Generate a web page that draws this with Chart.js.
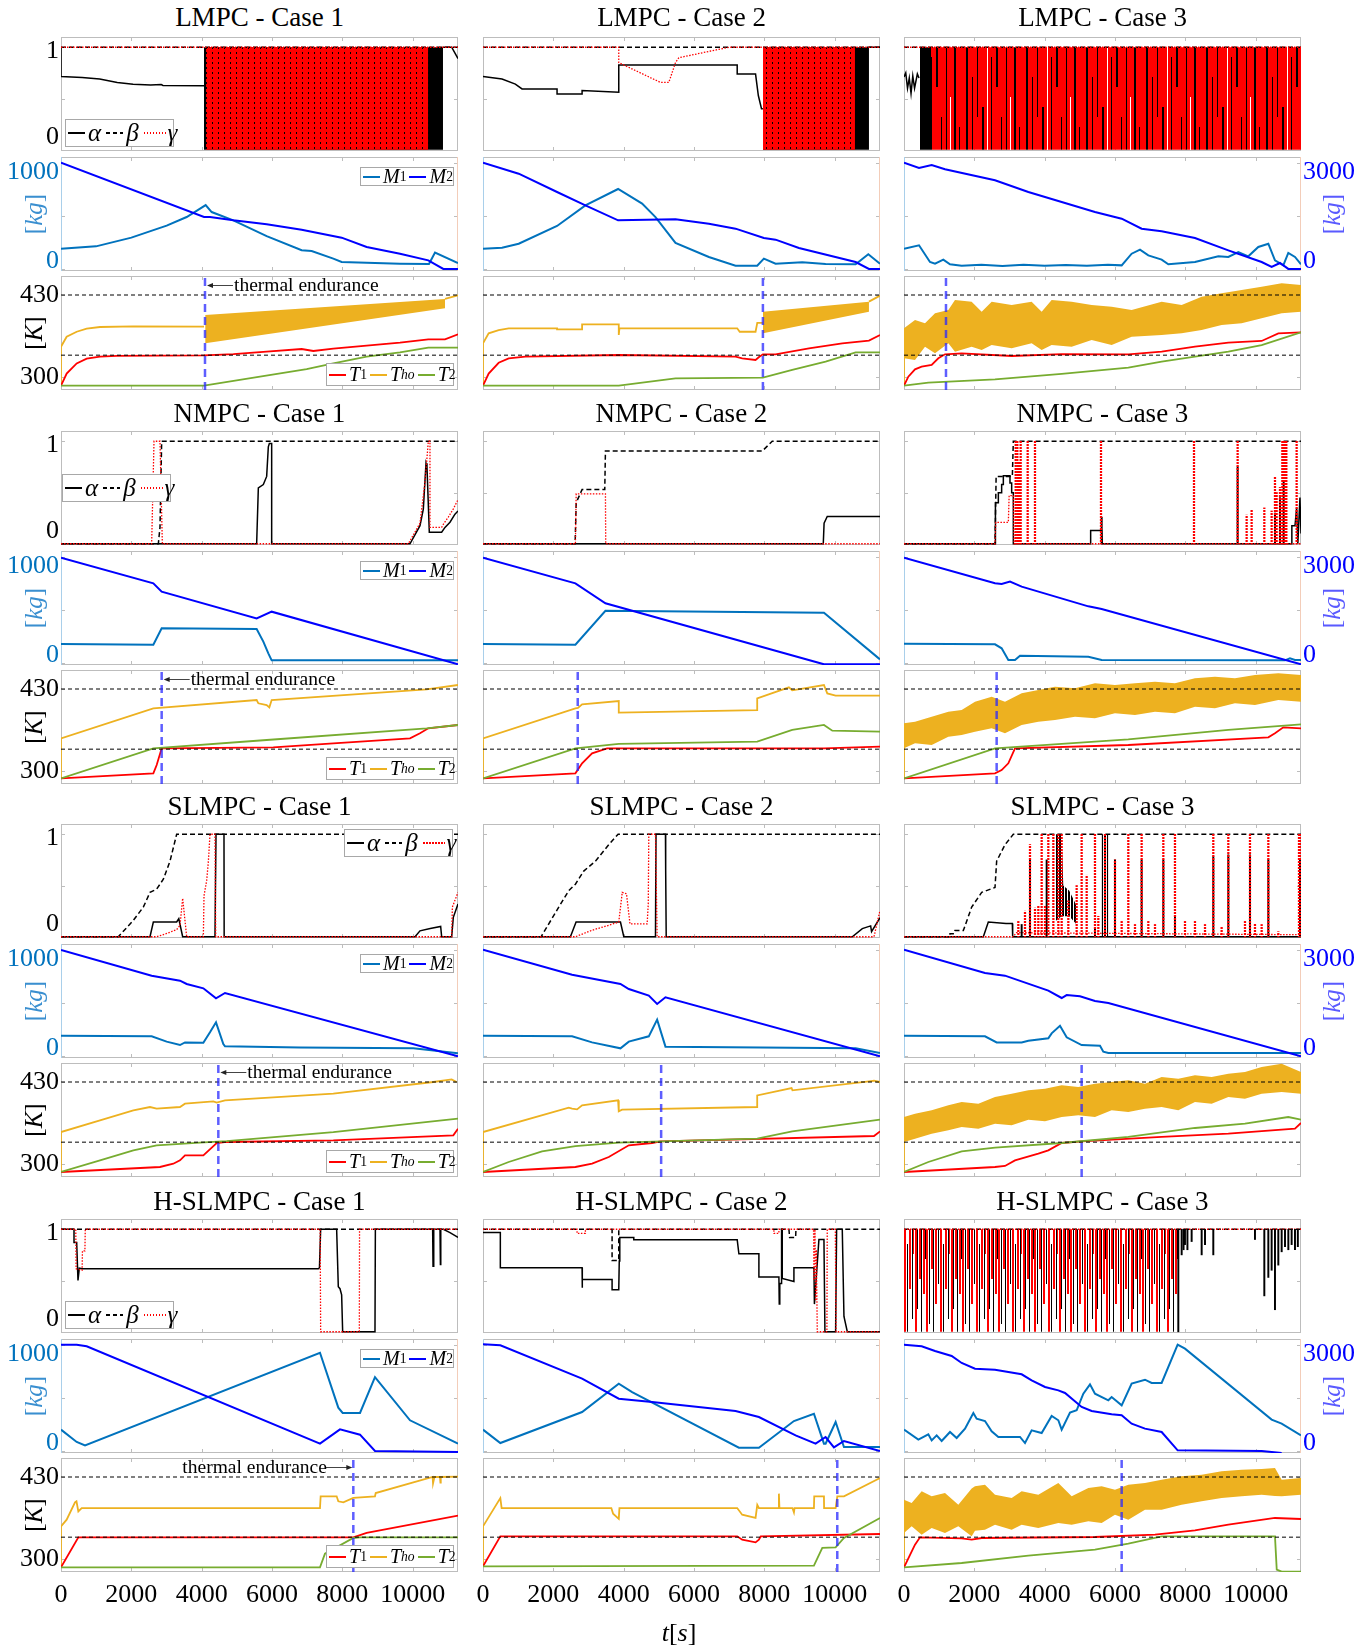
<!DOCTYPE html>
<html>
<head>
<meta charset="utf-8">
<title>MPC cases</title>
<script src="https://cdn.jsdelivr.net/npm/chart.js@4.4.1/dist/chart.umd.min.js"></script>
<style>
  html, body { margin: 0; padding: 0; background: #fff; }
  #fig { position: relative; width: 1370px; height: 1651px; overflow: hidden; font-family: 'Liberation Serif', 'Times New Roman', serif; color: #000; }
  #fig canvas { position: absolute; }
  .title { position: absolute; width: 397px; text-align: center; font-size: 27px; line-height: 27px; white-space: nowrap; }
  .ylab { position: absolute; font-size: 25px; line-height: 25px; white-space: nowrap; transform: translate(-50%, -50%) rotate(-90deg); }
  .lg { position: absolute; box-sizing: border-box; background: #fff; border: 1px solid #a8a8a8; display: flex; align-items: center; white-space: nowrap; }
  .lg i { font-style: italic; }
  .sw { display: inline-block; height: 2px; flex: none; }
  .note { position: absolute; font-size: 19.5px; line-height: 20px; white-space: nowrap; }
  sub { font-size: 0.68em; vertical-align: -0.28em; line-height: 0; }
</style>
</head>
<body>
<div id="fig"></div>
<script>
// time axis
const T_MAX = 11290;
const X_TICKS = [0, 2000, 4000, 6000, 8000, 10000];
const T_LIMITS = [430, 335];

// ---------- LMPC - Case 1 ----------
const lmpc1Alpha = [[0,1],[0,0.715],[600,0.706],[1100,0.69],[1600,0.657],[2050,0.638],[2550,0.632],[2850,0.636],[2900,0.627],[4067,0.625],[4068,null],[10863,null],[10863,1],[11110,1],[11290,0.89]];
const lmpc1Beta = [[0,1],[11290,1]];
const lmpc1Gamma = [[0,1],[11290,1]];
const lmpc1AlphaBand = [[4067,0,1],[10863,0,1]];
const lmpc1GammaBand = [[4123,0,1],[10445,0,1]];
const lmpc1M1 = [[0,190],[995,212],[2000,294],[3005,407],[3574,488],[4114,601],[4285,535],[4901,457],[5849,309],[6844,175],[7128,168],[7744,96],[7981,65],[8692,58],[9640,49],[10465,46],[10636,153],[11290,55]];
const lmpc1M2 = [[0,3000],[4067,1465],[4237,1465],[4901,1371],[5849,1258],[6844,1107],[7981,881],[8692,618],[9640,430],[10445,241],[10873,0],[11290,0]];
const lmpc1T1 = [[0,286.8],[161,306],[446,322],[730,329.5],[1109,332.6],[1583,334],[4067,334.7],[4901,336.8],[5849,340.5],[6844,344.7],[7176,341.6],[7744,345.3],[8692,350],[9640,354.7],[10445,360],[10920,360],[11290,367.9]];
const lmpc1Tho = [[0,286.8],[0,348.4],[161,364],[446,372],[730,376.8],[1109,379.5],[2057,380.5],[4067,380],[4068,null],[10920,null],[10920,423.7],[11290,429.5]];
const lmpc1ThoBand = [[4100,353.7,398.4],[10920,409,423.7]];
const lmpc1T2 = [[0,286.8],[4067,286.8],[6986,313],[7744,322],[8692,332.6],[9640,339.5],[10445,346.8],[11290,346.8]];
const lmpc1End = 4095;

// ---------- LMPC - Case 2 ----------
const lmpc2Alpha = [[0,0.715],[541,0.69],[920,0.641],[1110,0.593],[2106,0.593],[2106,0.545],[2818,0.545],[2818,0.577],[3861,0.561],[3861,0.827],[7229,0.827],[7229,0.738],[7751,0.738],[7830,0.529],[7920,0.4],[7960,0.4],[7961,null],[10976,null],[10976,1],[11290,1]];
const lmpc2Beta = [[0,1],[11290,1]];
const lmpc2Gamma = [[0,1],[3861,1],[3861,0.85],[5047,0.657],[5284,0.657],[5474,0.85],[5570,0.898],[6992,1],[11290,1]];
const lmpc2AlphaBand = [[7960,0,1],[10976,0,1]];
const lmpc2GammaBand = [[7960,0,1],[10578,0,1]];
const lmpc2M1 = [[0,190],[541,200],[1015,237],[2106,404],[2912,598],[3842,752],[4525,614],[4905,488],[5474,244],[6423,112],[7182,30],[7798,30],[7988,96],[8320,49],[9079,62],[9743,46],[10597,43],[10957,137],[11290,49]];
const lmpc2M2 = [[0,3000],[1015,2689],[2106,2171],[2912,1794],[3842,1371],[5474,1399],[6423,1277],[7182,1136],[7988,872],[8320,825],[8984,590],[10597,194],[10976,0],[11290,0]];
const lmpc2T1 = [[0,286.8],[161,306],[446,323],[730,330],[1205,332.6],[3861,335.3],[7182,332.6],[7371,330],[7751,327.4],[7850,332],[7960,336.3],[8320,336.3],[9269,345.8],[10217,353.7],[10976,357.9],[11290,366.8]];
const lmpc2Tho = [[0,286.8],[0,353.7],[161,369.5],[446,374.7],[730,377.4],[2106,377.4],[2106,375.8],[2818,375.8],[2818,383.7],[3861,383.7],[3861,367],[3880,377.4],[7229,377.4],[7300,372],[7751,372],[7800,386],[7960,386],[7961,null],[10976,null],[10976,419.5],[11290,429]];
const lmpc2ThoBand = [[7960,369.5,403.7],[10976,403.7,419.5]];
const lmpc2T2 = [[0,286.8],[3861,286.8],[5474,298.4],[7960,299.5],[8794,311.6],[9743,324.7],[10597,339.5],[11290,339.5]];
const lmpc2End = 7960;

// ---------- LMPC - Case 3 ----------
const lmpc3Alpha = [[0,0.71],[50,0.75],[100,0.6],[150,0.7],[200,0.55],[250,0.72],[300,0.6],[380,0.74],[427,0.7]];
const lmpc3Beta = [[0,1],[11290,1]];
const lmpc3Gamma = [[0,1],[11290,1]];
const lmpc3AlphaBand = [[455,0,1],[768,0,1]];
const lmpc3GammaBand = [[768,0,1],[11290,0,1]];
const lmpc3M1 = [[0,190],[427,222],[739,65],[882,49],[1118,87],[1308,43],[1640,30],[2200,38],[2800,28],[3400,40],[4000,30],[4600,36],[5200,30],[5800,38],[6190,33],[6474,143],[6711,181],[6948,127],[7327,87],[7517,43],[8275,65],[8939,118],[9223,112],[9507,159],[9792,118],[10076,206],[10361,237],[10550,80],[10787,33],[10929,150],[11119,112],[11290,43]];
const lmpc3M2 = [[0,3000],[427,2849],[787,2934],[1166,2812],[2588,2501],[3536,2171],[4484,1889],[5431,1606],[6190,1418],[6758,1136],[7327,1060],[8275,872],[9223,524],[10171,194],[10455,56],[10692,166],[10929,0],[11290,0]];
const lmpc3T1 = [[0,286.8],[123,301],[313,312.6],[502,316.8],[787,319.5],[976,330],[1166,336.3],[1640,337.9],[3062,333.7],[4484,336.8],[6379,336.3],[7327,340.5],[8275,348.4],[9223,354.7],[10171,357.4],[10645,369.5],[11290,371]];
const lmpc3Tho = [[0,286.8],[0,340]];
const lmpc3ThoBand = [[0,330,377.4],[313,327.4,390.5],[597,348.4,385.3],[882,337.9,401],[1261,353.7,406.3],[1450,340.5,422],[1924,348.4,419.5],[2209,343.2,403.7],[2493,351,419.5],[3062,345.8,414.2],[3630,353.7,419.5],[3915,343.2,403.7],[4199,351,422],[4768,348.4,419.5],[5337,359,414.2],[5905,351,411.6],[6474,364.2,406.3],[7327,366.8,419.5],[7896,369.5,414.2],[8465,374.7,427.4],[9033,382.6,432.6],[9602,385.3,437.9],[10171,393.2,443.2],[10740,401,448.4],[11290,403.7,445.8]];
const lmpc3T2 = [[0,286.8],[692,291.6],[2588,296.8],[4484,305.3],[6379,315.3],[7327,324.7],[9223,340.5],[10171,351],[11290,371]];
const lmpc3End = 1194;

// ---------- NMPC - Case 1 ----------
const nmpc1Alpha = [[0,0],[5564,0],[5612,0.545],[5754,0.577],[5849,0.657],[5896,0.946],[5925,0.978],[5991,0.978],[5991,0],[9925,0],[10209,0.176],[10304,0.337],[10380,0.786],[10408,0.75],[10474,0.112],[10825,0.112],[10920,0.16],[11062,0.21],[11204,0.289],[11290,0.32]];
const nmpc1Beta = [[0,0],[2768,0],[2815,0.16],[2863,1],[11290,1]];
const nmpc1Gamma = [[0,0],[2578,0],[2645,1],[2815,1],[2882,0],[9877,0],[10209,0.2],[10351,0.6],[10446,1],[10493,1],[10493,0.16],[10825,0.16],[10873,0.19],[11015,0.26],[11157,0.34],[11290,0.43]];
const nmpc1M1 = [[0,178],[2626,171],[2863,325],[5564,319],[5754,200],[5896,90],[5991,24],[11290,24]];
const nmpc1M2 = [[0,2972],[2626,2247],[2863,2011],[5564,1258],[5991,1446],[11290,-40]];
const nmpc1T1 = [[0,288.9],[2626,296.8],[2721,310],[2863,336.3],[6038,337.9],[7744,344.2],[9925,352.1],[10209,360],[10446,367.9],[11290,373.2]];
const nmpc1Tho = [[0,288.9],[0,352.1],[2626,399.5],[5564,412.6],[5612,407.4],[5849,404.7],[5925,401],[5991,412.6],[10398,429.5],[11290,436.3]];
const nmpc1T2 = [[0,288.9],[2626,336.3],[5849,349.5],[10398,367.9],[11290,373.2]];
const nmpc1End = 2863;

// ---------- NMPC - Case 2 ----------
const nmpc2Alpha = [[0,0],[9677,0],[9700,0.2],[9790,0.266],[11290,0.266]];
const nmpc2Beta = [[0,0],[2620,0],[2650,0.4],[2818,0.53],[3463,0.53],[3482,0.904],[7941,0.904],[8225,1],[11290,1]];
const nmpc2Gamma = [[0,0],[2628,0],[2650,0.487],[3482,0.487],[3490,0],[11290,0]];
const nmpc2M1 = [[0,178],[2628,171],[3482,491],[9696,473],[11290,33]];
const nmpc2M2 = [[0,2972],[2628,2247],[3482,1682],[9696,-40],[11290,-40]];
const nmpc2T1 = [[0,288.9],[2628,296.8],[2818,312.6],[3102,328.4],[3529,336.3],[9696,336.3],[11290,338.9]];
const nmpc2Tho = [[0,288.9],[0,352.1],[2628,399.5],[2700,400],[2818,405.8],[3861,411],[3861,392.6],[7798,396.8],[7798,415.3],[8699,432.6],[8794,428],[9696,436.3],[9791,423],[10028,419.5],[11290,419.5]];
const nmpc2T2 = [[0,288.9],[2628,336.3],[3861,343.2],[7798,346.8],[8794,365.3],[9696,373.2],[9934,364.2],[11290,362.6]];
const nmpc2End = 2694;

// ---------- NMPC - Case 3 ----------
const nmpc3Alpha = [[0,0],[2588,0],[2600,0.4],[2683,0.4],[2683,0.497],[2777,0.497],[2777,0.577],[2825,0.577],[2825,0.664],[3014,0.664],[3014,0.593],[3062,0.593],[3062,0.497],[3109,0.497],[3109,0],[5308,0],[5308,0.13],[5621,0.13],[5640,0],[11030,0],[11030,0.176],[11119,0.176],[11166,0.35],[11200,0],[11260,0.45],[11290,0.1]];
const nmpc3Beta = [[0,0],[2588,0],[2620,0.657],[3081,0.657],[3109,1],[11290,1]];
const nmpc3Gamma = [[0,0],[2588,0],[2610,0.208],[2967,0.208],[2990,0.47],[3109,0.47],[3130,0],[11290,0]];
const nmpc3GammaSpikes = [[3176,0,1],[3223,0,1],[3270,0,0.8],[3318,0,1],[3517,0,1],[3725,0,1],[5602,0,1],[8247,0,1],[9488,0,1],[9744,0,0.28],[9886,0,0.33],[10247,0,0.35],[10455,0,0.32],[10550,0,0.65],[10597,0,0.5],[10692,0,0.55],[10759,0,1],[10797,0,1],[10835,0,1],[10873,0,1],[11166,0,1]];
const nmpc3AlphaSpikes = [[5621,0,0.26],[9488,0,0.75],[10550,0,0.3],[10692,0,0.45],[10797,0,0.6]];
const nmpc3M1 = [[0,181],[2588,175],[2777,137],[2967,27],[3156,27],[3299,68],[5242,58],[5621,27],[10835,24],[10976,43],[11119,27],[11290,27]];
const nmpc3M2 = [[0,2972],[2588,2247],[2777,2228],[3014,2294],[3346,2153],[5242,1597],[5621,1522],[11290,-40]];
const nmpc3T1 = [[0,288.9],[2588,296.8],[2777,302],[2967,312.6],[3156,336.3],[6379,341.6],[10361,353.7],[10550,360],[10787,369.5],[11290,367.9]];
const nmpc3Tho = [[0,288.9],[0,345]];
const nmpc3ThoBand = [[0,336.3,375.8],[313,344.2,378.4],[787,341.6,386.3],[1261,354.7,394.2],[1640,357.4,396.8],[2019,362.6,410],[2493,367.9,417.9],[2872,360,410],[3346,373.2,423.2],[3820,378.4,428.4],[4294,381,433.7],[4863,386.3,431],[5431,383.7,438.9],[6000,391.6,436.3],[6569,389,438.9],[7138,394.2,441.6],[7706,391.6,438.9],[8275,402.1,446.8],[8844,399.5,449.5],[9413,407.4,446.8],[9981,404.7,452.1],[10645,412.6,454.7],[11290,410,452.1]];
const nmpc3T2 = [[0,288.9],[2588,336.3],[6379,350.5],[9223,365.3],[11290,374.2]];
const nmpc3End = 2635;

// ---------- SLMPC - Case 1 ----------
const slmpc1Alpha = [[0,0],[2531,0],[2626,0.144],[3289,0.144],[3350,0.176],[3460,0],[4379,0],[4408,1],[4635,1],[4640,0],[10067,0],[10209,0.058],[10500,0.08],[10797,0.1],[10825,0],[11110,0],[11157,0.19],[11290,0.32]];
const slmpc1Beta = [[0,0],[1630,0],[2057,0.16],[2341,0.289],[2531,0.433],[2720,0.465],[2910,0.561],[3100,0.738],[3289,1],[11290,1]];
const slmpc1Gamma = [[0,0],[2720,0],[3005,0.032],[3289,0.07],[3384,0.11],[3460,0.375],[3574,0],[4048,0],[4067,0.4],[4143,0.55],[4190,0.73],[4237,1],[4379,1],[4400,0],[11110,0],[11130,0.29],[11290,0.433]];
const slmpc1M1 = [[0,190],[2578,184],[3005,134],[3384,102],[3526,127],[4048,124],[4237,222],[4408,316],[4616,112],[4664,90],[6797,80],[10020,71],[11290,24]];
const slmpc1M2 = [[0,2990],[2578,2266],[3384,2124],[3574,2030],[4048,1908],[4190,1795],[4408,1625],[4664,1776],[11290,-13]];
const slmpc1T1 = [[0,287.9],[2815,295.8],[3194,301],[3384,306.3],[3526,314.2],[4048,314.2],[4427,333.7],[4711,335.3],[7744,337.9],[11157,345.8],[11290,356.3]];
const slmpc1Tho = [[0,287.9],[0,351],[1109,369.5],[2057,385.3],[2531,390.5],[2720,387.9],[3384,390.5],[3526,395.8],[4332,399.5],[4427,397.4],[4664,401],[7744,411.6],[10588,430],[11110,434.2],[11250,430]];
const slmpc1T2 = [[0,287.9],[1109,306.3],[2057,322.1],[2720,330],[3953,334.2],[4711,336.8],[7744,351],[11290,372.1]];
const slmpc1End = 4474;

// ---------- SLMPC - Case 2 ----------
const slmpc2Alpha = [[0,0],[2486,0],[2647,0.144],[3909,0.144],[4004,0],[4905,0],[4920,1],[5189,1],[5195,0.65],[5210,0],[10502,0],[10787,0.08],[11024,0.106],[11050,0.05],[11290,0.186]];
const slmpc2Beta = [[0,0],[1651,0],[2154,0.289],[2438,0.449],[2628,0.513],[2865,0.641],[3197,0.738],[3577,0.898],[3842,1],[11290,1]];
const slmpc2Gamma = [[0,0],[2628,0],[3102,0.064],[3577,0.112],[3861,0.144],[3960,0.433],[4080,0.42],[4180,0.125],[4668,0.125],[4700,0.32],[4715,1],[4905,1],[4952,0],[11119,0],[11290,0.257]];
const slmpc2M1 = [[0,190],[2533,184],[3102,127],[3909,71],[4146,134],[4715,184],[4952,341],[5189,87],[10597,71],[11290,27]];
const slmpc2M2 = [[0,3000],[2533,2294],[3909,2030],[4146,1889],[4715,1701],[4952,1465],[5189,1654],[11290,-13]];
const slmpc2T1 = [[0,287.9],[2628,295.8],[3102,301],[3577,311.6],[4146,330],[4810,333.7],[5047,336.3],[11119,344.7],[11290,352.1]];
const slmpc2Tho = [[0,287.9],[0,351],[2438,389.5],[2533,388],[2675,386.8],[2818,393.2],[3842,401],[3861,383.7],[3956,386.3],[7798,390.5],[7798,408.9],[8775,420.5],[8800,416.8],[10976,431],[11119,432],[11290,430]];
const slmpc2T2 = [[0,287.9],[730,303.7],[1679,320.5],[2628,328.9],[3861,334.2],[7798,340.5],[8794,352.1],[11290,370.5]];
const slmpc2End = 5066;

// ---------- SLMPC - Case 3 ----------
const slmpc3Alpha = [[0,0],[2256,0],[2398,0.144],[2900,0.13],[3081,0.13],[3090,0],[11290,0]];
const slmpc3Beta = [[0,0],[1308,0],[1308,0.03],[1430,0.03],[1450,0.06],[1687,0.06],[1924,0.289],[2209,0.433],[2588,0.481],[2635,0.738],[2872,0.898],[3109,1],[11290,1]];
const slmpc3Gamma = [[0,0],[3100,0],[3200,0.04],[11290,0.02]];
const slmpc3GammaSpikes = [[3251,0,0.15],[3441,0,0.25],[3583,0,0.9],[3725,0,0.28],[3820,0,0.3],[3915,0,1],[4010,0,0.3],[4104,0,1],[4247,0,1],[4389,0,1],[4484,0,1],[4673,0,0.35],[4910,0,0.5],[5052,0,1],[5195,0,0.6],[5431,0,1],[5526,0,0.2],[5716,0,1],[6000,0,0.75],[6190,0,0.15],[6379,0,1],[6569,0,0.12],[6758,0,1],[6948,0,0.15],[7138,0,0.12],[7375,0,1],[7706,0,1],[7991,0,0.15],[8275,0,0.15],[8560,0,0.12],[8796,0,1],[9033,0,0.1],[9223,0,1],[9697,0,0.15],[9839,0,1],[9981,0,0.13],[10171,0,0.12],[10361,0,1],[10645,0,0.05],[11233,0,1],[11271,0,1]];
const slmpc3AlphaSpikes = [[3346,0,0.12],[3583,0,0.75],[4057,0,0.75],[5431,0,0.08],[6000,0,0.75],[6758,0,0.75],[7375,0,0.75],[7706,0,0.2],[8796,0,0.78],[9223,0,0.8],[9839,0,0.8],[10361,0,0.75],[11261,0,0.75]];
const slmpc3AlphaBand1 = [[4294,0.15,1],[4480,0.2,1],[4530,0.2,0.5],[4700,0.2,0.45],[4910,0.12,0.3]];
const slmpc3AlphaBand2 = [[5620,0,1],[5810,0,1]];
const slmpc3M1 = [[0,190],[2303,184],[2635,127],[3346,127],[3536,143],[4104,165],[4199,212],[4436,284],[4626,175],[5052,102],[5574,96],[5668,40],[5811,27],[11290,27]];
const slmpc3M2 = [[0,3000],[2303,2341],[2872,2266],[4104,1842],[4484,1635],[4626,1719],[5005,1682],[5431,1550],[5811,1494],[11290,-13]];
const slmpc3T1 = [[0,287.9],[2588,295.8],[2872,297.4],[3156,306.3],[3820,316.8],[4104,322.1],[4484,333.7],[5052,336.3],[7327,343.2],[9223,348.4],[11119,356.3],[11290,365.3]];
const slmpc3Tho = [[0,287.9],[0,340]];
const slmpc3ThoBand = [[0,335.3,374.7],[313,340.5,380],[787,348.4,385.3],[1261,353.7,393.2],[1640,358.9,398.4],[2114,356.3,395.8],[2588,364.2,406.3],[3062,361.6,411.6],[3536,370.5,416.8],[4010,367.9,419.5],[4484,374.7,424.7],[4958,377.4,422.1],[5431,374.7,427.4],[5905,385.3,430],[6379,382.6,432.6],[6853,387.9,427.4],[7327,390.5,437.9],[7801,385.3,435.3],[8275,398.4,440.5],[8749,395.8,437.9],[9223,406.3,443.2],[9697,403.7,445.8],[10171,411.6,453.7],[10740,414.2,458.9],[11290,411.6,445.8]];
const slmpc3T2 = [[0,287.9],[692,303.7],[1640,320.5],[2588,326.3],[4484,333.7],[6379,343.2],[8275,357.4],[9697,364.2],[10929,374.7],[11290,370.5]];
const slmpc3End = 5052;

// ---------- H-SLMPC - Case 1 ----------
const hslmpc1Alpha = [[0,1],[370,1],[370,0.87],[446,0.87],[483,0.5],[521,0.62],[600,0.615],[7318,0.615],[7350,0.625],[7384,1],[7839,1],[7886,0.44],[7934,0.42],[7981,0.36],[8010,0],[8929,0],[8940,1],[10569,1],[10580,0.64],[10600,1],[10778,1],[10790,0.657],[10800,1],[10873,1],[11062,0.968],[11290,0.92]];
const hslmpc1Beta = [[0,1],[11290,1]];
const hslmpc1Gamma = [[0,1],[420,1],[430,0.615],[600,0.6],[610,0.79],[680,0.79],[690,1],[7370,1],[7384,0],[8484,0],[8490,1],[11290,1]];
const hslmpc1M1 = [[0,200],[446,84],[683,52],[7365,924],[7886,407],[8010,357],[8503,357],[8929,695],[9925,288],[11290,68]];
const hslmpc1M2 = [[0,2999],[446,2999],[730,2953],[7365,204],[7934,608],[8503,458],[8929,-3],[11290,-30]];
const hslmpc1T1 = [[0,287.4],[493,334.7],[8313,334.7],[8692,341.6],[11290,369]];
const hslmpc1Tho = [[0,287.4],[0,352.1],[161,362.6],[398,390],[440,391.6],[493,375.8],[588,381],[7365,381],[7384,399.5],[7839,399.5],[7886,391.6],[8029,390],[8313,397],[8929,399.5],[8950,404.7],[10569,430],[10580,420],[10620,430],[10778,430],[10790,421],[10800,430],[11290,430.5]];
const hslmpc1T2 = [[0,287.4],[7365,287.4],[7507,309],[8313,333.7],[8503,334.7],[11290,334.7]];
const hslmpc1End = 8313;

// ---------- H-SLMPC - Case 2 ----------
const hslmpc2Alpha = [[0,0.968],[493,0.968],[493,0.625],[2818,0.625],[2818,0.43],[2830,0.51],[3671,0.51],[3671,0.41],[3861,0.41],[3875,0.69],[3890,0.92],[4288,0.92],[4288,0.898],[7229,0.898],[7277,0.76],[7846,0.76],[7846,0.535],[8415,0.535],[8425,0.27],[8440,0.47],[8491,0.47],[8491,1],[8510,1],[8510,0.52],[8842,0.49],[8842,0.625],[9411,0.625],[9425,0.27],[9553,0.9],[9696,0.9],[9724,0],[10028,0],[10056,1],[10217,1],[10265,0.15],[10360,0],[11290,0]];
const hslmpc2Beta = [[0,1],[3671,1],[3671,0.696],[3861,0.696],[3861,1],[8700,1],[8720,0.92],[8890,0.92],[8900,1],[11290,1]];
const hslmpc2Gamma = [[0,1],[2675,1],[2675,0.96],[2912,0.96],[2912,1],[8273,1],[8273,0.96],[8415,0.96],[8415,1],[9400,1],[9411,0.5],[9440,1],[9460,0.3],[9480,0.8],[9506,0],[9780,0],[9790,1],[10020,1],[10040,0],[11290,0]];
const hslmpc2M1 = [[0,200],[493,74],[2818,366],[3861,633],[4241,554],[7277,30],[7846,30],[8842,281],[9411,350],[9696,68],[9743,68],[10028,272],[10265,36],[11290,36]];
const hslmpc2M2 = [[0,3009],[493,2981],[2818,2040],[3861,1475],[4810,1381],[7182,1126],[7846,957],[8889,439],[9459,204],[9743,392],[9980,100],[10265,279],[11290,-3]];
const hslmpc2T1 = [[0,289],[493,336.3],[7229,336.3],[7371,331],[7751,326.8],[7846,331],[7900,336.3],[11290,340]];
const hslmpc2Tho = [[0,289],[0,352],[493,396.8],[530,381],[3650,381],[3700,372],[3861,364],[3880,381],[7229,381],[7371,370.5],[7751,365.3],[7800,386],[7846,381],[8400,381],[8415,403.7],[8430,381],[8800,381],[8842,374],[8860,381],[9411,381],[9420,399.5],[9696,399.5],[9700,381],[10028,381],[10076,399.5],[10265,399.5],[11290,428.4]];
const hslmpc2T2 = [[0,289],[9411,290],[9649,318],[10028,319],[10265,333.7],[11290,365.3]];
const hslmpc2End = 10075;

// ---------- H-SLMPC - Case 3 ----------
const hslmpc3Beta = [[0,1],[11290,1]];
const hslmpc3Gamma = [[0,1],[11290,1]];
const hslmpc3MixBand = [[0,0,1],[7801,0,1]];
const hslmpc3AlphaSpikes = [[7801,0,1],[7896,0.75,1],[7950,0.8,1],[7990,0.85,1],[8060,0.8,1],[8180,0.88,1],[8465,0.75,1],[8560,0.85,1],[8796,0.75,1],[9981,0.9,1],[10247,0.35,1],[10361,0.53,1],[10455,0.6,1],[10550,0.215,1],[10645,0.65,1],[10740,0.78,1],[10835,0.83,1],[10930,0.8,1],[11024,0.85,1],[11119,0.8,1],[11200,0.83,1]];
const hslmpc3M1 = [[0,200],[408,106],[692,156],[787,99],[929,146],[1071,93],[1308,178],[1498,121],[1735,209],[1972,357],[2066,303],[2303,281],[2493,184],[2683,131],[3299,131],[3441,74],[3630,193],[3915,168],[4199,329],[4389,288],[4484,200],[4721,360],[4910,382],[5100,539],[5289,626],[5431,539],[5811,476],[5905,507],[6190,429],[6474,633],[6853,670],[7043,639],[7327,639],[7782,1000],[7991,962],[10455,294],[10740,256],[11290,146]];
const hslmpc3M2 = [[0,2999],[502,2953],[882,2821],[1356,2680],[1640,2483],[2019,2322],[2588,2294],[3346,2163],[3630,1993],[4010,1805],[4389,1710],[4579,1635],[5052,1240],[5336,1126],[5905,1032],[6190,1004],[6474,769],[6853,628],[7327,533],[7782,15],[10171,-3],[10740,-60]];
const hslmpc3T1 = [[0,287.4],[313,323.2],[455,334.7],[1640,333.2],[1924,331],[2209,333.7],[5431,335.3],[7138,339],[8275,345.8],[9223,354.7],[10550,365.3],[11290,363.7]];
const hslmpc3Tho = [[0,287.4],[0,345]];
const hslmpc3ThoBand = [[0,341.6,394.2],[218,352.1,388.9],[502,338.9,407.4],[787,349.5,399.5],[1166,341.6,404.7],[1545,352.1,386.3],[1924,336.3,412],[2019,345,415.3],[2303,346.8,417.9],[2588,354.7,402.1],[3062,346.8,396.8],[3346,354.7,407.4],[3820,349.5,402.1],[4389,357.4,420.5],[4768,354.7,399.5],[5242,360,412.6],[5621,357.4,415.3],[6000,370.5,410],[6379,362.6,417.9],[6853,378.4,420.5],[7327,378.4,425.8],[7896,386.3,431],[8465,391.6,433.7],[9033,396.8,439],[9602,399.5,441.6],[10171,402.1,442.7],[10550,400,444.2],[10740,399.5,425.8],[11290,402.1,428.4]];
const hslmpc3T2 = [[0,287.4],[1640,294.2],[3536,305.8],[5431,315.3],[6379,324.7],[7327,336.3],[10550,336.3],[10600,283.7],[10740,280.5],[11290,280.5]];
const hslmpc3End = 6190;

// ---------- layout / style ----------
const FONT = "'Liberation Serif', 'Times New Roman', serif";
const COL_LEFT = [61, 483, 904];
const GROUP_TOP = [37, 431, 824, 1219];
const ROW_OFFSET = [0, 120, 239];
const PLOT_W = 397, PLOT_H = 114;
const PAD_L = 61, PAD_R = 70, PAD_T = 20;
const RED = '#ff0000', M1C = '#0072BD', M2C = '#0000FF';
const T1C = '#ff0000', THOC = '#EDB120', T2C = '#77AC30';
const EDGE = '#bdbdbd';

const fig = document.getElementById('fig');

// texture tiles for the fast-switching regions: [x, width, yTop, yBottom, colour] in canvas pixels
function texture(w, h, bg, marks) {
  const c = document.createElement('canvas');
  c.width = w; c.height = h;
  const g = c.getContext('2d');
  g.fillStyle = bg; g.fillRect(0, 0, w, h);
  marks.forEach(([x, mw, y0, y1, col]) => { g.fillStyle = col; g.fillRect(x, y0, mw, y1 - y0); });
  return g.createPattern(c, 'repeat');
}
const FILLS = {
  black: '#000',
  blackStripe: texture(3, 4, 'rgba(0,0,0,0)', [[0, 2, 0, 4, '#000']]),
  dotRed: texture(2, 3, 'rgba(0,0,0,0)', [[0, 2, 0, 2, RED]]),
  redStripe: texture(6, 5, RED, [[2, 1, 0, 2, '#000']]),
  chaos: texture(60, 160, RED, [[3, 2, 20, 134, '#000'], [9, 1, 60, 134, '#000'], [14, 1, 20, 100, '#000'], [19, 2, 90, 134, '#000'], [24, 1, 20, 134, '#fff'], [28, 1, 40, 134, '#000'], [33, 2, 20, 70, '#000'], [38, 1, 100, 134, '#000'], [43, 1, 20, 134, '#000'], [47, 1, 80, 134, '#fff'], [51, 2, 20, 134, '#000'], [56, 1, 110, 134, '#000']]),
  mixed: texture(36, 160, '#fff', [[0, 2, 20, 134, RED], [2, 1, 20, 110, '#000'], [4, 2, 20, 80, RED], [6, 1, 20, 134, '#000'], [8, 2, 20, 95, RED], [10, 1, 20, 60, '#000'], [11, 2, 20, 134, RED], [14, 1, 30, 125, '#000'], [16, 2, 20, 70, RED], [18, 1, 20, 134, '#000'], [20, 2, 20, 105, RED], [23, 1, 20, 85, '#000'], [25, 2, 20, 134, RED], [28, 1, 45, 134, '#000'], [30, 2, 20, 90, RED], [33, 1, 20, 120, '#000'], [34, 1, 20, 55, RED]])
};

const PANELS = [
  { title: 'LMPC - Case 1', alpha: lmpc1Alpha, beta: lmpc1Beta, gamma: lmpc1Gamma, alphaBands: [lmpc1AlphaBand], gammaBands: [lmpc1GammaBand], gammaFill: 'redStripe', m1: lmpc1M1, m2: lmpc1M2, t1: lmpc1T1, tho: lmpc1Tho, thoBand: lmpc1ThoBand, t2: lmpc1T2, end: lmpc1End },
  { title: 'LMPC - Case 2', alpha: lmpc2Alpha, beta: lmpc2Beta, gamma: lmpc2Gamma, alphaBands: [lmpc2AlphaBand], gammaBands: [lmpc2GammaBand], gammaFill: 'redStripe', m1: lmpc2M1, m2: lmpc2M2, t1: lmpc2T1, tho: lmpc2Tho, thoBand: lmpc2ThoBand, t2: lmpc2T2, end: lmpc2End },
  { title: 'LMPC - Case 3', alpha: lmpc3Alpha, beta: lmpc3Beta, gamma: lmpc3Gamma, alphaBands: [lmpc3AlphaBand], gammaBands: [lmpc3GammaBand], gammaFill: 'chaos', m1: lmpc3M1, m2: lmpc3M2, t1: lmpc3T1, tho: lmpc3Tho, thoBand: lmpc3ThoBand, t2: lmpc3T2, end: lmpc3End },
  { title: 'NMPC - Case 1', alpha: nmpc1Alpha, beta: nmpc1Beta, gamma: nmpc1Gamma, m1: nmpc1M1, m2: nmpc1M2, t1: nmpc1T1, tho: nmpc1Tho, t2: nmpc1T2, end: nmpc1End },
  { title: 'NMPC - Case 2', alpha: nmpc2Alpha, beta: nmpc2Beta, gamma: nmpc2Gamma, m1: nmpc2M1, m2: nmpc2M2, t1: nmpc2T1, tho: nmpc2Tho, t2: nmpc2T2, end: nmpc2End },
  { title: 'NMPC - Case 3', alpha: nmpc3Alpha, beta: nmpc3Beta, gamma: nmpc3Gamma, gammaSpikes: nmpc3GammaSpikes, alphaSpikes: nmpc3AlphaSpikes, m1: nmpc3M1, m2: nmpc3M2, t1: nmpc3T1, tho: nmpc3Tho, thoBand: nmpc3ThoBand, t2: nmpc3T2, end: nmpc3End },
  { title: 'SLMPC - Case 1', alpha: slmpc1Alpha, beta: slmpc1Beta, gamma: slmpc1Gamma, m1: slmpc1M1, m2: slmpc1M2, t1: slmpc1T1, tho: slmpc1Tho, t2: slmpc1T2, end: slmpc1End },
  { title: 'SLMPC - Case 2', alpha: slmpc2Alpha, beta: slmpc2Beta, gamma: slmpc2Gamma, m1: slmpc2M1, m2: slmpc2M2, t1: slmpc2T1, tho: slmpc2Tho, t2: slmpc2T2, end: slmpc2End },
  { title: 'SLMPC - Case 3', alpha: slmpc3Alpha, beta: slmpc3Beta, gamma: slmpc3Gamma, gammaSpikes: slmpc3GammaSpikes, alphaSpikes: slmpc3AlphaSpikes, alphaBands: [slmpc3AlphaBand1, slmpc3AlphaBand2], alphaFill: 'blackStripe', m1: slmpc3M1, m2: slmpc3M2, t1: slmpc3T1, tho: slmpc3Tho, thoBand: slmpc3ThoBand, t2: slmpc3T2, end: slmpc3End },
  { title: 'H-SLMPC - Case 1', alpha: hslmpc1Alpha, beta: hslmpc1Beta, gamma: hslmpc1Gamma, m1: hslmpc1M1, m2: hslmpc1M2, t1: hslmpc1T1, tho: hslmpc1Tho, t2: hslmpc1T2, end: hslmpc1End },
  { title: 'H-SLMPC - Case 2', alpha: hslmpc2Alpha, beta: hslmpc2Beta, gamma: hslmpc2Gamma, m1: hslmpc2M1, m2: hslmpc2M2, t1: hslmpc2T1, tho: hslmpc2Tho, t2: hslmpc2T2, end: hslmpc2End },
  { title: 'H-SLMPC - Case 3', beta: hslmpc3Beta, gamma: hslmpc3Gamma, alphaSpikes: hslmpc3AlphaSpikes, gammaBands: [hslmpc3MixBand], gammaFill: 'mixed', m1: hslmpc3M1, m2: hslmpc3M2, t1: hslmpc3T1, tho: hslmpc3Tho, thoBand: hslmpc3ThoBand, t2: hslmpc3T2, end: hslmpc3End }
];

// ---------- dataset helpers ----------
const pts = arr => arr.map(([x, y]) => ({ x, y }));

function lineDs(data, color, width, dash, axis) {
  return { type: 'line', data: pts(data), borderColor: color, borderWidth: width, borderDash: dash || [],
    pointRadius: 0, fill: false, tension: 0, yAxisID: axis || 'y' };
}
function bandDs(band, fill) {
  return [
    { type: 'line', data: band.map(([x, lo]) => ({ x, y: lo })), borderWidth: 0, borderColor: 'rgba(0,0,0,0)', pointRadius: 0, fill: false, yAxisID: 'y' },
    { type: 'line', data: band.map(([x, , hi]) => ({ x, y: hi })), borderWidth: 0, borderColor: 'rgba(0,0,0,0)', pointRadius: 0, fill: '-1', backgroundColor: fill, yAxisID: 'y' }
  ];
}
function spikeDs(spikes, color, thick) {
  return { type: 'bar', data: spikes.map(([x, lo, hi]) => ({ x, y: [lo, hi] })), backgroundColor: color,
    barThickness: thick, grouped: false, yAxisID: 'y' };
}

// draws the light box and the short inward tick marks
const framePlugin = {
  id: 'frame',
  beforeDatasetsDraw(chart, args, o) {
    const { ctx, chartArea: a, scales } = chart;
    ctx.save();
    ctx.lineWidth = 1;
    ctx.strokeStyle = EDGE;
    ctx.beginPath();
    X_TICKS.slice(1).forEach(v => {
      const p = Math.round(scales.x.getPixelForValue(v)) + 0.5;
      ctx.moveTo(p, a.top); ctx.lineTo(p, a.top + 4);
      ctx.moveTo(p, a.bottom); ctx.lineTo(p, a.bottom - 4);
    });
    o.left.forEach(v => { const p = Math.round(scales.y.getPixelForValue(v)) + 0.5; ctx.moveTo(a.left, p); ctx.lineTo(a.left + 4, p); });
    o.right.forEach(v => { const p = Math.round(scales.yR.getPixelForValue(v)) + 0.5; ctx.moveTo(a.right, p); ctx.lineTo(a.right - 4, p); });
    ctx.moveTo(a.left, a.top + 0.5); ctx.lineTo(a.right, a.top + 0.5);
    ctx.moveTo(a.left, a.bottom - 0.5); ctx.lineTo(a.right, a.bottom - 0.5);
    ctx.stroke();
    ctx.strokeStyle = o.leftColor || EDGE;
    ctx.beginPath(); ctx.moveTo(a.left + 0.5, a.top); ctx.lineTo(a.left + 0.5, a.bottom); ctx.stroke();
    ctx.strokeStyle = o.rightColor || EDGE;
    ctx.beginPath(); ctx.moveTo(a.right - 0.5, a.top); ctx.lineTo(a.right - 0.5, a.bottom); ctx.stroke();
    ctx.restore();
  }
};

function yAxis(min, max, labels, color, show, position, width) {
  return {
    type: 'linear', position, min, max,
    afterBuildTicks: s => { s.ticks = labels.map(([value]) => ({ value })); },
    afterFit: s => { s.width = width; },
    grid: { display: false, drawTicks: false }, border: { display: false },
    ticks: { display: show, padding: 2, color, font: { family: FONT, size: 26 }, callback: (v, i) => labels[i][1] }
  };
}

function makeChart(col, plotTop, padB, datasets, yL, yR, frame, showX) {
  const c = document.createElement('canvas');
  const w = PAD_L + PLOT_W + PAD_R, h = PAD_T + PLOT_H + padB;
  c.width = w; c.height = h;
  Object.assign(c.style, { left: (COL_LEFT[col] - PAD_L) + 'px', top: (plotTop - PAD_T) + 'px', width: w + 'px', height: h + 'px' });
  fig.appendChild(c);
  new Chart(c, {
    type: 'line',
    data: { datasets },
    options: {
      responsive: false, animation: false, events: [],
      layout: { padding: { top: PAD_T, left: 0, right: 0, bottom: 0 } },
      plugins: { legend: { display: false }, tooltip: { enabled: false }, frame },
      scales: {
        x: {
          type: 'linear', min: 0, max: T_MAX, offset: false,
          afterBuildTicks: s => { s.ticks = X_TICKS.map(value => ({ value })); },
          afterFit: s => { s.height = padB; },
          grid: { display: false, drawTicks: false }, border: { display: false },
          ticks: { display: showX, autoSkip: false, maxRotation: 0, padding: 8, color: '#000', font: { family: FONT, size: 26 }, callback: v => String(v) }
        },
        y: yL, yR
      }
    },
    plugins: [framePlugin]
  });
}

// tick-label anchors (the end labels sit slightly inside the frame, as in the original)
const ALPHA_LABELS = [[0.963, '1'], [0.125, '0']];
const M1_LABELS = [[910, '1000'], [70, '0']];
const M2_LABELS = [[2730, '3000'], [210, '0']];
const T_LABELS = [[430, '430'], [300, '300']];
const ALPHA_RANGE = [-0.012, 1.1], M1_RANGE = [-20, 1053.3], M2_RANGE = [-60, 3160], T_RANGE = [280, 460];

PANELS.forEach((p, i) => {
  const row = Math.floor(i / 3), col = i % 3;
  const g = GROUP_TOP[row];
  const bottom = row === 3;

  // title
  const t = document.createElement('div');
  t.className = 'title'; t.textContent = p.title;
  Object.assign(t.style, { left: COL_LEFT[col] + 'px', top: (g - (row === 0 ? 33 : 31)) + 'px' });
  fig.appendChild(t);

  // alpha / beta / gamma
  const a = [];
  if (p.gammaSpikes) a.push(spikeDs(p.gammaSpikes, FILLS.dotRed, 1.6));
  if (p.alphaSpikes) a.push(spikeDs(p.alphaSpikes, '#000', 1.3));
  a.push(lineDs(p.gamma, RED, 1.3, [1.5, 1.5]));
  a.push(lineDs(p.beta, '#000', 1.5, [5, 3]));
  if (p.alpha) a.push(lineDs(p.alpha, '#000', 1.5));
  (p.gammaBands || []).forEach(b => a.push(...bandDs(b, FILLS[p.gammaFill])));
  (p.alphaBands || []).forEach(b => a.push(...bandDs(b, FILLS[p.alphaFill || 'black'])));
  makeChart(col, g + ROW_OFFSET[0], 20, a,
    yAxis(ALPHA_RANGE[0], ALPHA_RANGE[1], ALPHA_LABELS, '#000', col === 0, 'left', PAD_L),
    yAxis(ALPHA_RANGE[0], ALPHA_RANGE[1], ALPHA_LABELS, '#000', false, 'right', PAD_R),
    { left: [0, 0.5, 1], right: [0, 0.5, 1] }, false);

  // masses (M1 left axis, M2 right axis)
  const m = [lineDs(p.m2, M2C, 2, null, 'yR'), lineDs(p.m1, M1C, 2, null, 'y')];
  makeChart(col, g + ROW_OFFSET[1], 20, m,
    yAxis(M1_RANGE[0], M1_RANGE[1], M1_LABELS, M1C, col === 0, 'left', PAD_L),
    yAxis(M2_RANGE[0], M2_RANGE[1], M2_LABELS, M2C, col === 2, 'right', PAD_R),
    { left: [0, 500, 1000], right: [0, 1500, 3000], leftColor: '#a9cfea', rightColor: '#f3cdb9' }, false);

  // temperatures
  const tt = [
    lineDs([[p.end, T_RANGE[0]], [p.end, T_RANGE[1]]], 'rgba(40,40,255,0.75)', 2.5, [8, 5]),
    ...T_LIMITS.map(v => lineDs([[0, v], [T_MAX, v]], '#000', 1, [4, 3])),
    lineDs(p.t2, T2C, 1.8),
    lineDs(p.t1, T1C, 1.8),
    lineDs(p.tho, THOC, 1.8)
  ];
  if (p.thoBand) tt.push(...bandDs(p.thoBand, THOC));
  makeChart(col, g + ROW_OFFSET[2], bottom ? 48 : 20, tt,
    yAxis(T_RANGE[0], T_RANGE[1], T_LABELS, '#000', col === 0, 'left', PAD_L),
    yAxis(T_RANGE[0], T_RANGE[1], T_LABELS, '#000', false, 'right', PAD_R),
    { left: [300, 430], right: [300, 430] }, bottom);
});

// ---------- text overlays ----------
function add(cls, html, style) {
  const d = document.createElement('div');
  d.className = cls; d.innerHTML = html;
  Object.assign(d.style, style);
  fig.appendChild(d);
  return d;
}
const SOLID = c => `width:17px;background:${c};margin:0 3px 0 1px`;
const DASH = 'width:17px;background:repeating-linear-gradient(90deg,#000 0 4px,transparent 4px 7px);margin:0 3px 0 5px';
const DOT = 'width:22px;background:repeating-linear-gradient(90deg,#f00 0 1.5px,transparent 1.5px 3px);margin:0 2px 0 5px';

// y-axis titles
GROUP_TOP.forEach(g => {
  add('ylab', '[<i>kg</i>]', { left: '33px', top: (g + ROW_OFFSET[1] + PLOT_H / 2) + 'px', color: '#3a8fd0' });
  add('ylab', '[<i>K</i>]', { left: '33px', top: (g + ROW_OFFSET[2] + PLOT_H / 2) + 'px' });
  add('ylab', '[<i>kg</i>]', { left: '1331px', top: (g + ROW_OFFSET[1] + PLOT_H / 2) + 'px', color: '#5a5aff' });
});

// legends (first column only)
const ALPHA_LEG_POS = [[4, 82], [1, 43], [283, 5], [4, 82]];
GROUP_TOP.forEach((g, r) => {
  const [lx, ly] = ALPHA_LEG_POS[r];
  add('lg', `<span class="sw" style="${SOLID('#000')}"></span><i>α</i><span class="sw" style="${DASH}"></span><i>β</i><span class="sw" style="${DOT}"></span><i>γ</i>`,
    { left: (COL_LEFT[0] + lx) + 'px', top: (g + ly) + 'px', width: '109px', height: '28px', fontSize: '25px', paddingLeft: '1px' });
  add('lg', `<span class="sw" style="${SOLID(M1C)}"></span><i>M</i><sub>1</sub><span class="sw" style="${SOLID(M2C)};margin-left:3px"></span><i>M</i><sub>2</sub>`,
    { left: (COL_LEFT[0] + 299) + 'px', top: (g + ROW_OFFSET[1] + 10) + 'px', width: '94px', height: '19px', fontSize: '20px', paddingLeft: '1px' });
  add('lg', `<span class="sw" style="${SOLID(T1C)}"></span><i>T</i><sub>1</sub><span class="sw" style="${SOLID(THOC)};margin-left:3px"></span><i>T</i><sub><i>ho</i></sub><span class="sw" style="${SOLID(T2C)};margin-left:3px"></span><i>T</i><sub>2</sub>`,
    { left: (COL_LEFT[0] + 265) + 'px', top: (g + ROW_OFFSET[2] + 87) + 'px', width: '128px', height: '23px', fontSize: '20px', paddingLeft: '1px' });
});

// thermal endurance notes with arrows
const svgNS = 'http://www.w3.org/2000/svg';
const svg = document.createElementNS(svgNS, 'svg');
svg.setAttribute('width', 1370); svg.setAttribute('height', 1651);
Object.assign(svg.style, { position: 'absolute', left: 0, top: 0 });
fig.appendChild(svg);
function arrow(x1, x2, y) {
  const dir = Math.sign(x2 - x1);
  const l = document.createElementNS(svgNS, 'line');
  l.setAttribute('x1', x1); l.setAttribute('x2', x2 - dir * 5); l.setAttribute('y1', y); l.setAttribute('y2', y);
  l.setAttribute('stroke', '#444'); l.setAttribute('stroke-width', 1);
  svg.appendChild(l);
  const h = document.createElementNS(svgNS, 'polygon');
  h.setAttribute('points', `${x2},${y} ${x2 - dir * 6},${y - 2.5} ${x2 - dir * 6},${y + 2.5}`);
  h.setAttribute('fill', '#222');
  svg.appendChild(h);
}
const ENDS = [lmpc1End, nmpc1End, slmpc1End, hslmpc1End];
ENDS.forEach((e, r) => {
  const px = COL_LEFT[0] + e / T_MAX * PLOT_W;
  const y = GROUP_TOP[r] + ROW_OFFSET[2] + 9.5;
  if (r < 3) {
    arrow(px + 28, px + 2, y);
    add('note', 'thermal endurance', { left: (px + 29) + 'px', top: (y - 11) + 'px' });
  } else {
    arrow(px - 28, px - 1, y);
    add('note', 'thermal endurance', { left: (px - 171) + 'px', top: (y - 11) + 'px' });
  }
});

// shared x-axis title
add('note', '<i>t</i>[<i>s</i>]', { left: '679px', top: '1633px', fontSize: '26px', lineHeight: '26px', transform: 'translate(-50%,-50%)' });
</script>
</body>
</html>
